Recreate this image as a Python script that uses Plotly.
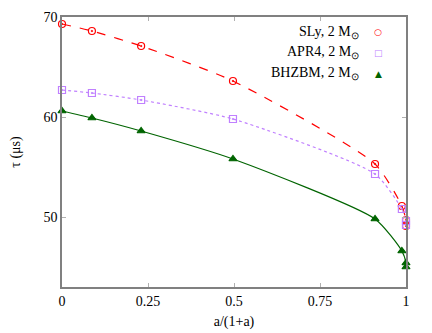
import plotly.graph_objects as go

# Data
sly_x = [0.0, 0.087, 0.23, 0.497, 0.91, 0.988, 1.0, 1.0]
sly_y = [69.3, 68.6, 67.1, 63.6, 55.3, 51.1, 49.7, 49.1]
apr4_x = [0.0, 0.087, 0.23, 0.497, 0.91, 0.988, 1.0, 1.0]
apr4_y = [62.7, 62.4, 61.7, 59.8, 54.3, 50.8, 49.6, 49.2]
bhzbm_x = [0.0, 0.087, 0.23, 0.497, 0.91, 0.988, 1.0, 1.0]
bhzbm_y = [60.6, 59.9, 58.6, 55.8, 49.8, 46.6, 45.4, 45.0]

names = ["SLy, 2 M<sub>⊙</sub>", "APR4, 2 M<sub>⊙</sub>", "BHZBM, 2 M<sub>⊙</sub>"]
x_ticks = [0, 0.25, 0.5, 0.75, 1]
x_tick_labels = ["0", "0.25", "0.5", "0.75", "1"]
y_ticks = [50, 60, 70]

FONT = "Liberation Serif, Times New Roman, serif"
series = [
    (sly_x, sly_y, "#ff0000", "dash", "circle-open-dot", "○"),
    (apr4_x, apr4_y, "#c080ff", "dot", "square-open-dot", "□"),
    (bhzbm_x, bhzbm_y, "#006400", "solid", "triangle-up", "▲"),
]

fig = go.Figure()
for (xs, ys, col, dash, sym, _), nm in zip(series, names):
    fig.add_trace(go.Scatter(
        x=xs, y=ys, mode="lines+markers", name=nm, showlegend=False,
        line=dict(color=col, width=1.2, dash=dash, shape="spline", smoothing=0.6),
        marker=dict(symbol=sym, size=7, color=col, line=dict(color=col, width=1.2)),
        cliponaxis=False,
    ))

# legend as annotations (text right-aligned, symbol at right)
leg_y = [0.944, 0.867, 0.789]
for yy, (_, _, col, _, _, ch), nm in zip(leg_y, series, names):
    fig.add_annotation(xref="paper", yref="paper", x=0.868, y=yy, xanchor="right",
                       yanchor="middle", text=nm, showarrow=False,
                       font=dict(family=FONT, size=14, color="black"))
    fig.add_annotation(xref="paper", yref="paper", x=0.919, y=yy, xanchor="center",
                       yanchor="middle", text=ch, showarrow=False,
                       font=dict(family="DejaVu Sans", size=9, color=col))

axis_common = dict(showline=True, linecolor="#808080", linewidth=1.5, mirror="allticks",
                   ticks="inside", ticklen=4, tickcolor="#b0b0b0", showgrid=False,
                   zeroline=False, automargin=False,
                   tickfont=dict(family=FONT, size=14, color="black"))
fig.update_xaxes(range=[0, 1], tickvals=x_ticks, ticktext=x_tick_labels,
                 title=dict(text="a/(1+a)", font=dict(family=FONT, size=14, color="black"),
                            standoff=9), **axis_common)
fig.update_yaxes(range=[43, 70], tickvals=y_ticks,
                 title=dict(text="τ (μs)", font=dict(family=FONT, size=14, color="black"),
                            standoff=22), **axis_common)
fig.update_layout(width=424, height=325, margin=dict(l=54, r=26, t=9, b=46),
                  font=dict(family=FONT, size=14, color="black"),
                  plot_bgcolor="white", paper_bgcolor="white", showlegend=False)
fig.write_html("out.html")
